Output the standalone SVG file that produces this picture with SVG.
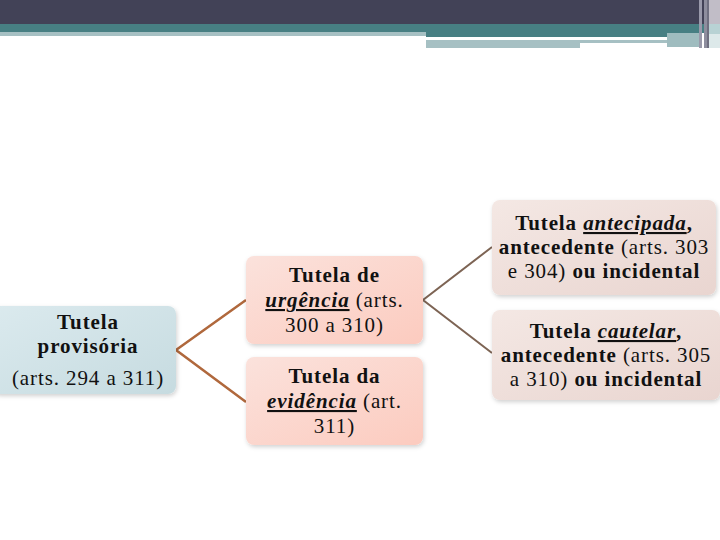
<svg xmlns="http://www.w3.org/2000/svg" width="720" height="540" viewBox="0 0 720 540">
<defs>
<linearGradient id="gBlue" x1="0" y1="0" x2="1" y2="1"><stop offset="0" stop-color="#dbeaee"/><stop offset="1" stop-color="#c6dbe0"/></linearGradient>
<linearGradient id="gPink" x1="0" y1="0" x2="1" y2="1"><stop offset="0" stop-color="#fbe2dc"/><stop offset="1" stop-color="#fccbbf"/></linearGradient>
<linearGradient id="gBeige" x1="0" y1="0" x2="1" y2="1"><stop offset="0" stop-color="#f4e8e4"/><stop offset="1" stop-color="#e9d5d0"/></linearGradient>
<filter id="sh" x="-10%" y="-10%" width="125%" height="130%"><feDropShadow dx="1" dy="2" stdDeviation="2" flood-color="#000" flood-opacity="0.18"/></filter>
</defs>
<style>
text{font-family:"Liberation Serif","Times New Roman",serif;font-size:21px;fill:#111;text-anchor:middle;letter-spacing:0.9px}
.b{font-weight:bold}
.bi{font-weight:bold;font-style:italic;text-decoration:underline}
.node rect{filter:url(#sh)}
</style>
<g id="header">
<rect x="0" y="0" width="720" height="24" fill="#424257"/>
<rect x="0" y="24" width="720" height="9" fill="#477f83"/>
<rect x="0" y="32" width="426" height="4" fill="#a6c0c3"/>
<rect x="426" y="33" width="274" height="4" fill="#477f83"/>
<rect x="426" y="37" width="241" height="3" fill="#ffffff"/>
<rect x="426" y="40" width="241" height="3" fill="#a6c0c3"/>
<rect x="426" y="43" width="154" height="5" fill="#a6c0c3"/>
<rect x="667" y="33" width="33" height="14" fill="#9fbcbf"/>
<rect x="699" y="0" width="3" height="48" fill="#9a9aab"/>
<rect x="704" y="0" width="3" height="48" fill="#8e8e9e"/>
<rect x="707" y="0" width="2" height="48" fill="#6f6f80"/>
<rect x="709" y="0" width="11" height="24" fill="#c1bdc7"/>
<rect x="709" y="24" width="11" height="10" fill="#b8d2d4"/>
<rect x="709" y="34" width="11" height="14" fill="#dde9ea"/>
</g>
<g id="connectors" fill="none" stroke-linejoin="miter">
<polyline points="246,300 176,350 246,402" stroke="#b0683c" stroke-width="2.5"/>
<polyline points="492,247 423,300 492,353" stroke="#7d6454" stroke-width="2"/>
</g>
<g id="n1" class="node">
<rect x="-8" y="306" width="184" height="88" rx="8" fill="url(#gBlue)"/>
<text x="88" y="329" class="b">Tutela</text>
<text x="88" y="353" class="b">provisória</text>
<text x="88" y="385">(arts. 294 a 311)</text>
</g>
<g id="n2" class="node">
<rect x="246" y="256" width="177" height="88" rx="8" fill="url(#gPink)"/>
<text x="334.5" y="282" class="b">Tutela de</text>
<text x="334.5" y="307"><tspan class="bi">urgência</tspan> (arts.</text>
<text x="334.5" y="332">300 a 310)</text>
</g>
<g id="n3" class="node">
<rect x="246" y="357" width="177" height="88" rx="8" fill="url(#gPink)"/>
<text x="334.5" y="383" class="b">Tutela da</text>
<text x="334.5" y="408"><tspan class="bi">evidência</tspan> (art.</text>
<text x="334.5" y="433">311)</text>
</g>
<g id="n4" class="node">
<rect x="492" y="200" width="224" height="95" rx="8" fill="url(#gBeige)"/>
<text x="604" y="230"><tspan class="b">Tutela </tspan><tspan class="bi">antecipada</tspan><tspan class="b">,</tspan></text>
<text x="604" y="254"><tspan class="b">antecedente</tspan> (arts. 303</text>
<text x="604" y="278">e 304) <tspan class="b">ou incidental</tspan></text>
</g>
<g id="n5" class="node">
<rect x="492" y="310" width="228" height="90" rx="8" fill="url(#gBeige)"/>
<text x="606" y="338"><tspan class="b">Tutela </tspan><tspan class="bi">cautelar</tspan><tspan class="b">,</tspan></text>
<text x="606" y="362"><tspan class="b">antecedente</tspan> (arts. 305</text>
<text x="606" y="386">a 310) <tspan class="b">ou incidental</tspan></text>
</g>
</svg>
